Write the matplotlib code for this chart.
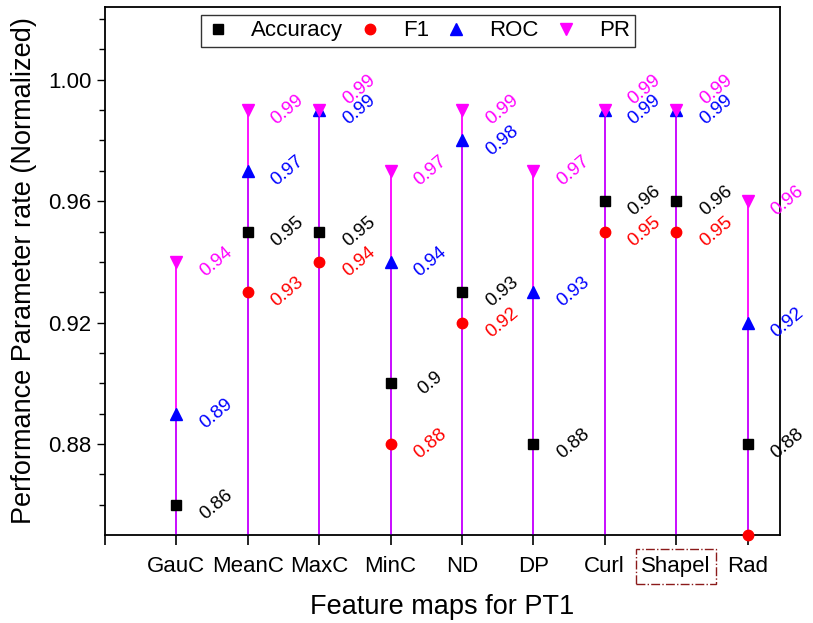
import numpy as np
import matplotlib
matplotlib.use("Agg")
import matplotlib.pyplot as plt
from matplotlib.patches import Rectangle

plt.rcParams['font.family'] = ['Liberation Sans', 'DejaVu Sans']

categories = ["GauC", "MeanC", "MaxC", "MinC", "ND", "DP", "Curl", "Shapel", "Rad"]
accuracy = [0.86, 0.95, 0.95, 0.90, 0.93, 0.88, 0.96, 0.96, 0.88]
f1 = [np.nan, 0.93, 0.94, 0.88, 0.92, np.nan, 0.95, 0.95, 0.85]
roc = [0.89, 0.97, 0.99, 0.94, 0.98, 0.93, 0.99, 0.99, 0.92]
pr = [0.94, 0.99, 0.99, 0.97, 0.99, 0.97, 0.99, 0.99, 0.96]
yticks = [0.88, 0.92, 0.96, 1.00]

YMIN, YMAX = 0.85, 1.024
x = np.arange(1, len(categories) + 1)

fig = plt.figure(figsize=(8.13, 6.23), dpi=100)
ax = fig.add_axes([0.129, 0.141, 0.830, 0.848])

# drop lines from the axis floor up to each value
pr_arr = np.array(pr)
roc_arr = np.array(roc)
ax.vlines(x, YMIN, pr_arr, color="#ff00ff", lw=1.3, zorder=2)
ax.vlines(x, YMIN, roc_arr, color="#4000ff", lw=1.3, alpha=0.3, zorder=3)

series = [
    ("Accuracy", accuracy, "black", "s", 6.5),
    ("F1", f1, "red", "o", 7.5),
    ("ROC", roc, "blue", "^", 8.5),
    ("PR", pr, "#ff00ff", "v", 8.5),
]
for name, vals, col, mk, ms in series:
    ax.plot(x, vals, linestyle="none", marker=mk, color=col, markersize=ms,
            label=name, zorder=5, clip_on=(name != "F1"))

# value labels, rotated, to the right of each marker
for name, vals, col, mk, ms in series:
    for i, v in enumerate(vals):
        if np.isnan(v) or v <= 0.855:
            continue
        dy = 0
        if name == "PR" and abs(roc[i] - v) < 1e-9:
            dy = 20
        ax.annotate(f"{v:g}", (x[i], v), xytext=(40, dy), textcoords="offset pixels",
                    ha="center", va="center", rotation=40, color=col, fontsize=13.5,
                    zorder=6)

ax.set_xlim(0, 9.45)
ax.set_ylim(YMIN, YMAX)
ax.set_xticks(np.concatenate([[0], x]))
ax.set_xticklabels([""] + categories, fontsize=16)
ax.set_yticks(yticks)
ax.set_yticklabels([f"{t:.2f}" for t in yticks], fontsize=16)
ax.set_yticks(np.arange(0.86, 1.021, 0.01), minor=True)
ax.tick_params(axis="y", which="major", direction="out", length=6, width=1)
ax.tick_params(axis="y", which="minor", direction="out", length=4, width=1)
ax.tick_params(axis="x", which="major", direction="out", length=7, width=1.2, pad=8)
for s in ax.spines.values():
    s.set_linewidth(1.3)

ax.set_xlabel("Feature maps for PT1", fontsize=19.5, labelpad=12)
ax.set_ylabel("Performance Parameter rate (Normalized)", fontsize=19.5, labelpad=8)

# dash-dot frame around the Shapel tick label
fig.canvas.draw()
lbl = ax.get_xticklabels()[8]
bb = lbl.get_window_extent().transformed(fig.transFigure.inverted())
pad_x, pad_y = 0.006, 0.012
fig.patches.append(Rectangle((bb.x0 - pad_x, bb.y0 - pad_y), bb.width + 2 * pad_x,
                             bb.height + 2 * pad_y, transform=fig.transFigure,
                             fill=False, edgecolor="#8b1a1a", linestyle="-.", lw=1.0))

leg = ax.legend(loc="upper left", bbox_to_anchor=(0.143, 0.985), ncol=4, fontsize=16,
                frameon=True, fancybox=False, edgecolor="black", handletextpad=1.0,
                columnspacing=0.7, borderpad=0.25, handlelength=1.0, borderaxespad=0.0)
leg.get_frame().set_linewidth(1.0)

fig.savefig("out.png", dpi=100)
